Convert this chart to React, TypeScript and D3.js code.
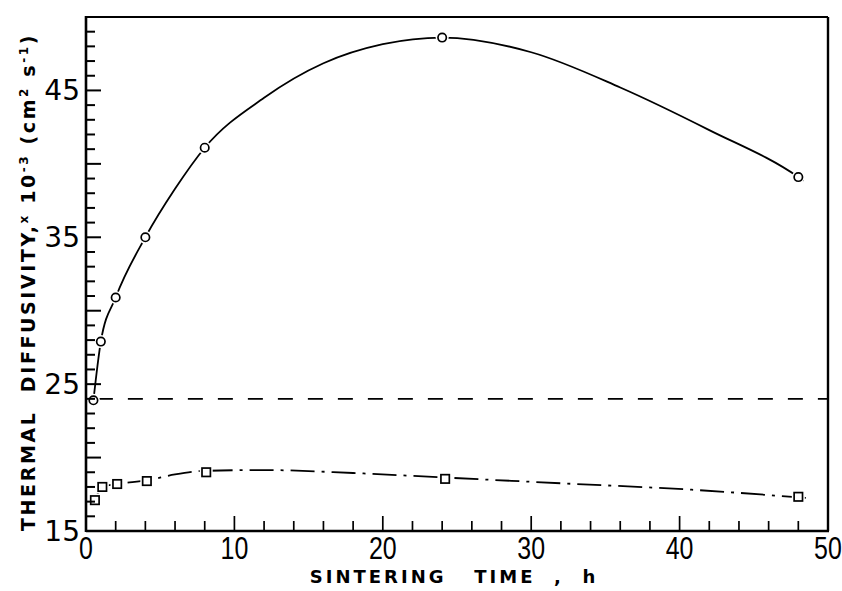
import React from "react";
import * as d3 from "d3";

// ---- data ----
const circleTime = [0.5, 1, 2, 4, 8, 24, 48];
const circleDiff = [23.9, 27.9, 30.9, 35.0, 41.1, 48.6, 39.1];

// hand-drawn fitted curve through the circles
const upperFitTime = [0.5, 1, 2, 4, 6, 8, 12, 16, 20, 24, 30, 36, 42, 48, 48.35];
const upperFitDiff = [23.9, 27.9, 30.9, 35.0, 38.3, 41.1, 44.5, 46.85, 48.15, 48.6, 47.6, 45.2, 42.3, 39.1, 38.85];

const squareTime = [0.6, 1.1, 2.1, 4.1, 8.1, 24.2, 48];
const squareDiff = [17.1, 18.0, 18.2, 18.4, 19.0, 18.55, 17.33];

const lowerFitTime = [0.6, 1.1, 2.1, 4.1, 6, 8.1, 12, 18, 24, 32, 41, 48.9];
const lowerFitDiff = [17.1, 18.0, 18.2, 18.45, 18.85, 19.1, 19.15, 18.95, 18.65, 18.25, 17.8, 17.22];

const dashedLevel = 24.0;
const dashedSpan = [0.8, 50];

const xTickLabels = [0, 10, 20, 30, 40, 50];
const yTickLabels = [15, 25, 35, 45];

const W = 842;
const H = 591;
const L = 86, R = 828, T = 17, B = 531;

export default function App() {
  const x = d3.scaleLinear().domain([0, 50]).range([L, R]);
  const y = d3.scaleLinear().domain([15, 50]).range([B, T]);

  const upper = d3
    .line<number>()
    .x((_, i) => x(upperFitTime[i]))
    .y((d) => y(d))
    .curve(d3.curveMonotoneX)(upperFitDiff) as string;
  const lower = d3
    .line<number>()
    .x((_, i) => x(lowerFitTime[i]))
    .y((d) => y(d))
    .curve(d3.curveMonotoneX)(lowerFitDiff) as string;

  const xMinor = d3.range(2, 50, 2);
  const yMinor = d3.range(16, 50, 1);

  const labelFont = "'DejaVu Sans', sans-serif";
  const xLabelFont = "'Liberation Sans', Arial, sans-serif";
  const titleFont = "'DejaVu Sans', 'Liberation Sans', sans-serif";

  return (
    <svg
      width={W}
      height={H}
      viewBox={`0 0 ${W} ${H}`}
      style={{ position: "absolute", left: 0, top: 0, background: "#fff" }}
    >
      <rect x={0} y={0} width={W} height={H} fill="#fff" />

      {/* curves */}
      <path d={upper} fill="none" stroke="#000" strokeWidth={1.8} />
      <path
        d={lower}
        fill="none"
        stroke="#000"
        strokeWidth={1.8}
        strokeDasharray="24 7 3 7"
      />
      <line
        x1={x(dashedSpan[0])}
        x2={x(dashedSpan[1])}
        y1={y(dashedLevel)}
        y2={y(dashedLevel)}
        stroke="#000"
        strokeWidth={1.8}
        strokeDasharray="15 15"
      />

      {/* markers */}
      {circleTime.map((t, i) => (
        <g key={"c" + i}>
          <circle cx={x(t)} cy={y(circleDiff[i])} r={6.5} fill="#fff" />
          <circle cx={x(t)} cy={y(circleDiff[i])} r={4.2} fill="#fff" stroke="#000" strokeWidth={1.7} />
        </g>
      ))}
      {squareTime.map((t, i) => (
        <g key={"s" + i}>
          <rect x={x(t) - 6.5} y={y(squareDiff[i]) - 6.5} width={13} height={13} fill="#fff" />
          <rect
            x={x(t) - 4.2}
            y={y(squareDiff[i]) - 4.2}
            width={8.4}
            height={8.4}
            fill="#fff"
            stroke="#000"
            strokeWidth={1.7}
          />
        </g>
      ))}

      {/* frame */}
      <line x1={L} x2={R} y1={T} y2={T} stroke="#000" strokeWidth={2.2} />
      <line x1={R} x2={R} y1={T} y2={B} stroke="#000" strokeWidth={2.4} />
      <line x1={L} x2={R + 1} y1={B} y2={B} stroke="#000" strokeWidth={2.6} />
      <line x1={L} x2={L} y1={T - 1} y2={B + 1} stroke="#000" strokeWidth={2.6} />

      {/* x ticks */}
      {xMinor.map((t) => (
        <line
          key={"xt" + t}
          x1={x(t)}
          x2={x(t)}
          y1={B}
          y2={B - (t % 10 === 0 ? 15 : 10)}
          stroke="#000"
          strokeWidth={1.7}
        />
      ))}
      {/* y ticks */}
      {yMinor.map((v) => (
        <line
          key={"yt" + v}
          x1={L}
          x2={L + (v % 5 === 0 ? 15 : 9)}
          y1={y(v)}
          y2={y(v)}
          stroke="#000"
          strokeWidth={2}
        />
      ))}

      {/* tick labels */}
      {xTickLabels.map((t) => (
        <text
          key={"xl" + t}
          transform={`translate(${x(t)},${B + 28}) scale(0.78,1)`}
          textAnchor="middle"
          fontFamily={xLabelFont}
          fontSize={32}
          fill="#000"
        >
          {t}
        </text>
      ))}
      {yTickLabels.map((v) => (
        <text
          key={"yl" + v}
          x={L - 6}
          y={y(v) + 10}
          textAnchor="end"
          fontFamily={labelFont}
          fontSize={28}
          fill="#000"
        >
          {v}
        </text>
      ))}

      {/* axis titles */}
      <text
        x={454}
        y={583}
        textAnchor="middle"
        fontFamily={titleFont}
        fontWeight="bold"
        fontSize={18}
        letterSpacing={3}
        style={{ whiteSpace: "pre" }}
        fill="#000"
      >
        {"SINTERING   TIME  ,  h"}
      </text>
      <text
        transform="translate(35,282) rotate(-90)"
        textAnchor="middle"
        fontFamily={titleFont}
        fontWeight="bold"
        fontSize={19}
        letterSpacing={2.6}
        style={{ whiteSpace: "pre" }}
        fill="#000"
      >
        <tspan>{"THERMAL  DIFFUSIVITY,"}</tspan>
        <tspan fontSize={12} dy={-7}>{"x"}</tspan>
        <tspan dy={7}>{" 10"}</tspan>
        <tspan fontSize={12} dy={-7}>{"-3"}</tspan>
        <tspan dy={7}>{" (cm"}</tspan>
        <tspan fontSize={12} dy={-7}>{"2"}</tspan>
        <tspan dy={7}>{" s"}</tspan>
        <tspan fontSize={12} dy={-7}>{"-1"}</tspan>
        <tspan dy={7}>{")"}</tspan>
      </text>
    </svg>
  );
}
